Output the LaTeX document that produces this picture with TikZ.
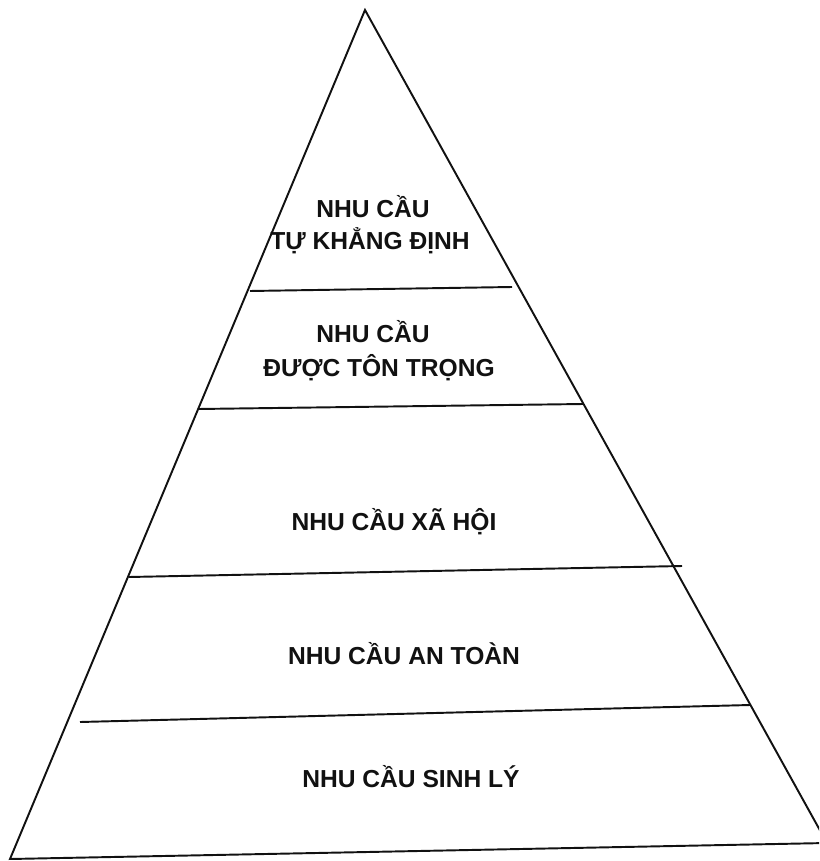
\documentclass[tikz,border=0pt]{standalone}
\usepackage{fontspec}
\setmainfont{Liberation Sans}
\usepackage{tikz}
\usetikzlibrary{positioning,calc}
\definecolor{cInk}{HTML}{111111}
\tikzset{
  edge/.style={cInk, line width=1.1pt, line join=miter},
  tier/.style={cInk, line width=1.1pt},
  lbl/.style={font=\fontsize{14}{16}\selectfont\bfseries, cInk, inner sep=0pt, anchor=base}
}

\begin{document}
\begin{tikzpicture}[x=0.02cm, y=-0.02cm]
\useasboundingbox (0,0) rectangle (819,861);
\clip (0,0) rectangle (819,861);
% pyramid outline
\coordinate (apex) at (365,10);
\coordinate (bl) at (10,859);
\coordinate (br) at (827,843);
\draw[edge] (bl) -- (apex) -- (br) -- cycle;
% tier separators
\foreach \n/\a/\b in {1/{250,291}/{512,287}, 2/{198,409}/{583,404},
                      3/{129,577}/{682,566}, 4/{80,722}/{750,705}}
  {\coordinate (s\n l) at (\a); \coordinate (s\n r) at (\b);
   \draw[tier] (s\n l) -- (s\n r);}
% labels
\node[lbl] (t1a) at (373,218) {NHU CẦU};
\node[lbl] (t1b) at (370,250) {TỰ KHẲNG ĐỊNH};
\node[lbl] (t2a) at (373,342) {NHU CẦU};
\node[lbl] (t2b) at (379,376) {ĐƯỢC TÔN TRỌNG};
\node[lbl] (t3) at (394,530) {NHU CẦU XÃ HỘI};
\node[lbl] (t4) at (404,664) {NHU CẦU AN TOÀN};
\node[lbl] (t5) at (411,787) {NHU CẦU SINH LÝ};
\end{tikzpicture}
\end{document}
